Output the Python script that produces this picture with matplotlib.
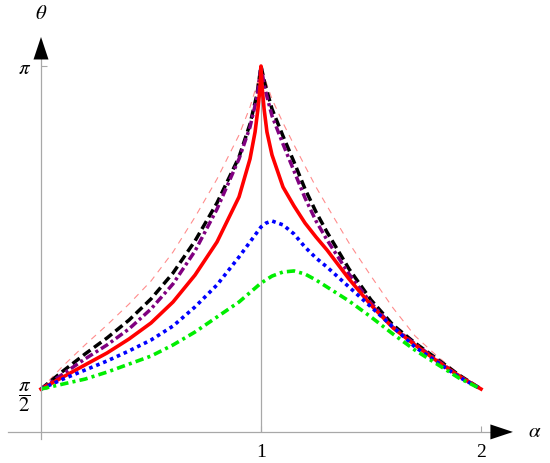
import numpy as np
import matplotlib
matplotlib.use('Agg')
import matplotlib.pyplot as plt

plt.rcParams['font.family'] = 'serif'
plt.rcParams['font.serif'] = ['Liberation Serif', 'DejaVu Serif']
plt.rcParams['mathtext.fontset'] = 'stix'
plt.rcParams['lines.scale_dashes'] = False

PI = np.pi
HALF = np.pi / 2

left = [0, 0.1, 0.2, 0.3, 0.4, 0.5, 0.6, 0.7, 0.8, 0.9]
right = [1.05, 1.1, 1.15, 1.2, 1.25, 1.3, 1.4, 1.5, 1.6, 1.7, 1.8, 1.9, 2.0]

# thin light-red dashed (outermost)
a_thin = left + [0.95, 0.982, 1.0, 1.018] + right
t_thin = [HALF, 1.683, 1.785, 1.882, 1.984, 2.096, 2.237, 2.407, 2.592, 2.806,
          2.942, 3.054, PI,
          3.079, 2.981, 2.865, 2.758, 2.655, 2.553, 2.461, 2.281, 2.120,
          1.965, 1.829, 1.731, 1.644, HALF]

# black dashed
a_black = left + [0.95, 0.982, 1.0, 1.018] + right
t_black = [HALF, 1.658, 1.741, 1.819, 1.906, 2.009, 2.135, 2.291, 2.476, 2.699,
           2.860, 3.006, PI,
           3.054, 2.933, 2.801, 2.675, 2.544, 2.432, 2.334, 2.155, 2.004,
           1.882, 1.795, 1.717, 1.639, HALF]

# purple dash-dot
a_purple = left + [0.95, 0.982, 1.0, 1.018] + right
t_purple = [HALF, 1.644, 1.717, 1.785, 1.863, 1.960, 2.082, 2.242, 2.446, 2.690,
            2.845, 2.991, PI,
            3.030, 2.899, 2.762, 2.631, 2.500, 2.388, 2.296, 2.130, 1.989,
            1.872, 1.790, 1.712, 1.634, HALF]

# red solid
a_red = left + [0.95, 0.973, 0.986, 0.995, 1.0, 1.005, 1.014, 1.027] + right
t_red = [HALF, 1.629, 1.688, 1.746, 1.814, 1.892, 1.994, 2.125, 2.286, 2.505,
         2.690, 2.821, 2.933, 3.030, PI,
         3.040, 2.933, 2.821,
         2.709, 2.553, 2.461, 2.378, 2.310, 2.247, 2.106, 1.979,
         1.868, 1.785, 1.707, 1.634, HALF]

# blue dotted
a_blue = left + [0.95, 1.0, 1.023] + right
t_blue = [HALF, 1.619, 1.663, 1.707, 1.756, 1.809, 1.877, 1.970, 2.077, 2.213,
          2.286, 2.359, 2.378,
          2.388, 2.369, 2.325, 2.261, 2.208, 2.164, 2.067, 1.970,
          1.872, 1.775, 1.702, 1.629, HALF]

# green dash-dot
a_green = left + [1.0] + right
t_green = [HALF, 1.595, 1.619, 1.653, 1.692, 1.731, 1.785, 1.848, 1.921, 1.994,
           2.086,
           2.120, 2.140, 2.145, 2.130, 2.101, 2.067, 1.999, 1.921,
           1.838, 1.760, 1.692, 1.624, HALF]

axis_y = 1.362   # where the alpha axis crosses
gray = '#a8a8a8'

fig = plt.figure(figsize=(5.5, 4.64), dpi=100)
ax = fig.add_axes([0, 0, 1, 1])
ax.set_xlim(-0.1864, 2.3136)
ax.set_ylim(1.2109, 3.4677)
ax.patch.set_alpha(0)

ax.plot(a_thin, t_thin, color='#ff8c8c', lw=0.8, dashes=(4.5, 4))
ax.plot(a_black, t_black, color='black', lw=2.5, dashes=(6.5, 3.2))
ax.plot(a_purple, t_purple, color='#800080', lw=2.5, dashes=(6, 2.4, 2.2, 2.4))
ax.plot(a_red, t_red, color='red', lw=2.6)
ax.plot(a_blue, t_blue, color='blue', lw=2.6, dashes=(2.6, 2.8))
ax.plot(a_green, t_green, color='#00ee00', lw=2.6, dashes=(6, 3, 2.2, 3))

# Mathematica-style axes
ax.vlines(1, axis_y, PI, color=gray, lw=0.9, zorder=0)
for s in ['top', 'right']:
    ax.spines[s].set_visible(False)
ax.spines['left'].set_position(('data', 0))
ax.spines['bottom'].set_position(('data', axis_y))
ax.spines['left'].set_bounds(1.3276, 3.27)
ax.spines['bottom'].set_bounds(-0.15, 2.13)
for s in ['left', 'bottom']:
    ax.spines[s].set_color(gray)
    ax.spines[s].set_linewidth(0.9)

ax.set_xticks([1, 2])
ax.set_xticklabels(['1', '2'])
ax.set_yticks([HALF, PI])
ax.set_yticklabels([r'$\dfrac{\pi}{2}$', r'$\pi$'])
ax.tick_params(axis='x', direction='in', length=4, color=gray,
               labelsize=14, pad=8)
ax.tick_params(axis='y', direction='in', length=4, color=gray,
               labelsize=15, pad=7)

arrow = dict(arrowstyle='-|>,head_length=0.9,head_width=0.3', color='black',
             lw=0, mutation_scale=18, shrinkA=0, shrinkB=0)
ax.annotate('', xy=(2.145, axis_y), xytext=(2.05, axis_y), arrowprops=arrow)
ax.annotate('', xy=(0, 3.283), xytext=(0, 3.18), arrowprops=arrow)

ax.text(2.245, axis_y, r'$\alpha$', fontsize=15, ha='center', va='center')
ax.text(0, 3.395, r'$\theta$', fontsize=15, ha='center', va='center')

fig.savefig('out.png', dpi=100)
